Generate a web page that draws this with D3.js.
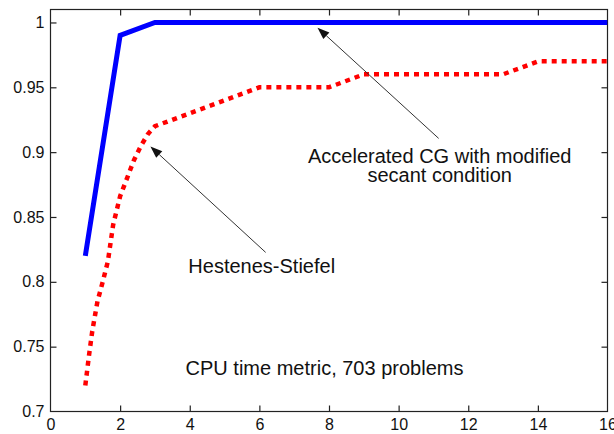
<!DOCTYPE html>
<html><head><meta charset="utf-8">
<script src="https://cdn.jsdelivr.net/npm/d3@7"></script>
<style>
html,body{margin:0;padding:0;background:#fff;}
svg{display:block;}
text{font-family:"Liberation Sans",Arial,Helvetica,sans-serif;fill:#111;}
</style></head><body>
<svg id="c" width="614" height="434"></svg>
<script>
// ---- data ----
const xTicks = [0, 2, 4, 6, 8, 10, 12, 14, 16];
const yTicks = [0.7, 0.75, 0.8, 0.85, 0.9, 0.95, 1];
const yTickLabels = ["0.7", "0.75", "0.8", "0.85", "0.9", "0.95", "1"];

const accelX = [1, 2, 3, 4, 5, 6, 7, 8, 9, 10, 11, 12, 13, 14, 15, 16];
const accelY = [0.82, 0.99, 1, 1, 1, 1, 1, 1, 1, 1, 1, 1, 1, 1, 1, 1];

const hsX = [1, 1.1, 1.2, 1.35, 1.5, 1.65, 1.8, 2, 2.2, 2.4, 2.6, 2.8, 3, 4, 5, 6, 7, 8, 9, 10, 11, 12, 13, 14, 15, 16];
const hsY = [0.72, 0.742, 0.762, 0.785, 0.80, 0.816, 0.844, 0.866, 0.880, 0.894, 0.905, 0.914, 0.92, 0.93, 0.94, 0.95, 0.95, 0.95, 0.96, 0.96, 0.96, 0.96, 0.96, 0.97, 0.97, 0.97];

const labelAccel = ["Accelerated CG with modified", "secant condition"];
const labelHS = "Hestenes-Stiefel";
const labelNote = "CPU time metric, 703 problems";

// ---- layout ----
const L = 50.5, R = 607.5, T = 9.5, B = 411.5;
const svg = d3.select("#c");
const x = d3.scaleLinear().domain([0, 16]).range([L, R]);
const y = d3.scaleLinear().domain([0.7, 1.01]).range([B, T]);

// frame
svg.append("rect").attr("x", L).attr("y", T).attr("width", R - L).attr("height", B - T)
  .attr("fill", "none").attr("stroke", "#222").attr("stroke-width", 1.2);

// axes with inward ticks
const tickLen = 6;
const gx = svg.append("g").attr("transform", `translate(0,${B})`)
  .call(d3.axisBottom(x).tickValues(xTicks).tickSize(-tickLen).tickPadding(7.5).tickFormat(d3.format("d")));
const gxTop = svg.append("g").attr("transform", `translate(0,${T})`)
  .call(d3.axisTop(x).tickValues(xTicks).tickSize(-tickLen).tickFormat(""));
const gy = svg.append("g").attr("transform", `translate(${L},0)`)
  .call(d3.axisLeft(y).tickValues(yTicks).tickSize(-tickLen).tickPadding(6).tickFormat((d, i) => yTickLabels[i]));
const gyR = svg.append("g").attr("transform", `translate(${R},0)`)
  .call(d3.axisRight(y).tickValues(yTicks).tickSize(-tickLen).tickFormat(""));
[gx, gxTop, gy, gyR].forEach(g => {
  g.select(".domain").remove();
  g.selectAll(".tick line").attr("stroke", "#222").attr("stroke-width", 1.2);
  g.selectAll(".tick text").attr("font-size", 16).attr("fill", "#111")
    .style("font-family", '"Liberation Sans",Arial,sans-serif');
});
gx.selectAll(".tick text").attr("dy", "0.71em");
gx.selectAll(".tick").filter(d => d === 0 || d === 16).select("line").remove();
gxTop.selectAll(".tick").filter(d => d === 0 || d === 16).select("line").remove();
gy.selectAll(".tick").filter(d => d === 0.7).select("line").remove();
gyR.selectAll(".tick").filter(d => d === 0.7).select("line").remove();

// series
const line = d3.line().x(d => x(d[0])).y(d => y(d[1]));
svg.append("clipPath").attr("id", "pc").append("rect")
  .attr("x", L).attr("y", T).attr("width", R - L).attr("height", B - T);

svg.append("path").datum(hsX.map((v, i) => [v, hsY[i]]))
  .attr("d", line).attr("fill", "none").attr("stroke", "#ff0000")
  .attr("stroke-width", 4.5).attr("stroke-dasharray", "5,5").attr("clip-path", "url(#pc)");

svg.append("path").datum(accelX.map((v, i) => [v, accelY[i]]))
  .attr("d", line).attr("fill", "none").attr("stroke", "#0000ff")
  .attr("stroke-width", 5).attr("stroke-linejoin", "miter").attr("clip-path", "url(#pc)");

// arrows
function arrow(x1, y1, x2, y2) {
  const X1 = x(x1), Y1 = y(y1), X2 = x(x2), Y2 = y(y2);
  const ang = Math.atan2(Y2 - Y1, X2 - X1);
  const len = 12, w = 4.5;
  const bx = X2 - len * Math.cos(ang), by = Y2 - len * Math.sin(ang);
  svg.append("line").attr("x1", X1).attr("y1", Y1).attr("x2", bx).attr("y2", by)
    .attr("stroke", "#333").attr("stroke-width", 1);
  const px = -Math.sin(ang) * w, py = Math.cos(ang) * w;
  svg.append("path").attr("d", `M${X2},${Y2}L${bx + px},${by + py}L${bx - px},${by - py}Z`).attr("fill", "#111");
}
arrow(11.15, 0.9106, 7.67, 0.996);
arrow(6.18, 0.8227, 2.87, 0.9044);

// labels
const ta = svg.append("text").attr("font-size", 20).attr("text-anchor", "middle");
ta.append("tspan").attr("x", x(11.18)).attr("y", y(0.892)).text(labelAccel[0]);
ta.append("tspan").attr("x", x(11.18)).attr("y", y(0.8766)).text(labelAccel[1]);
svg.append("text").attr("font-size", 20).attr("x", x(3.96)).attr("y", y(0.807)).text(labelHS);
svg.append("text").attr("font-size", 20).attr("x", x(3.88)).attr("y", y(0.7278)).text(labelNote);
</script>
</body></html>
